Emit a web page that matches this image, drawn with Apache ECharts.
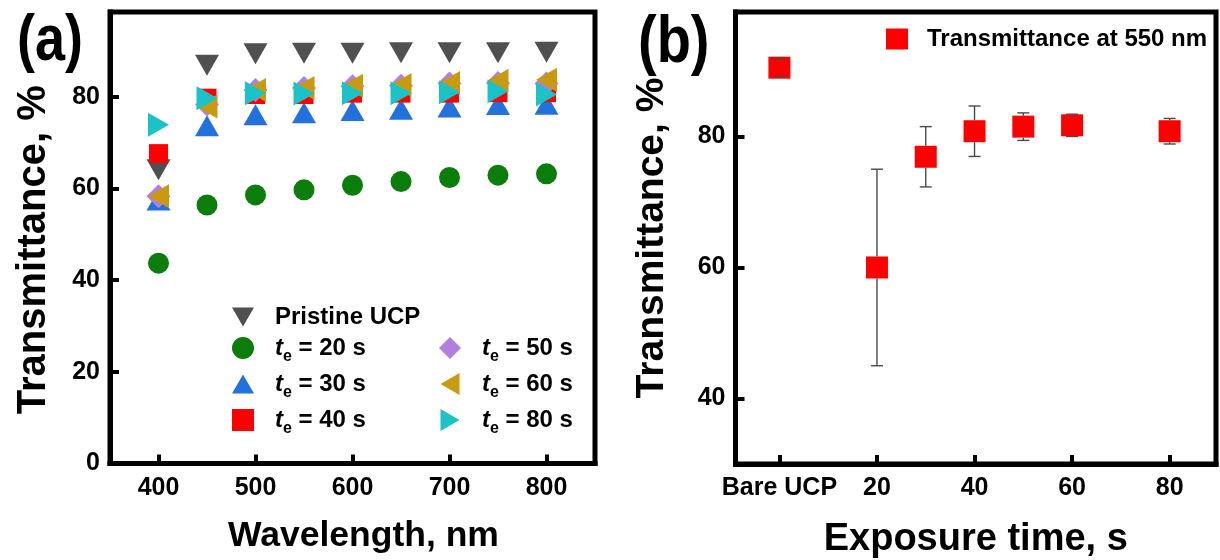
<!DOCTYPE html>
<html>
<head>
<meta charset="utf-8">
<script src="https://cdn.jsdelivr.net/npm/echarts@6/dist/echarts.min.js"></script>
<style>
  html, body { margin: 0; padding: 0; background: #ffffff; }
  #chart { width: 1220px; height: 560px; }
</style>
</head>
<body>
<div id="chart"></div>
<script>
// ---- (a) transmittance spectra ----
const wavelengths = [400, 450, 500, 550, 600, 650, 700, 750, 800];
const pristineUCP = [64.1, 86.9, 89.4, 89.5, 89.5, 89.6, 89.6, 89.6, 89.7];
const te20 = [43.7, 56.4, 58.6, 59.7, 60.7, 61.5, 62.4, 62.9, 63.2];
const te30 = [57.5, 73.7, 76.1, 76.5, 77.0, 77.3, 77.8, 78.3, 78.4];
const te40 = [67.6, 79.7, 80.5, 80.5, 80.8, 80.8, 80.8, 80.9, 80.9];
const te50 = [58.3, 78.3, 81.5, 81.9, 82.3, 82.4, 82.9, 83.0, 82.9];
const te60 = [58.3, 77.9, 81.5, 81.9, 82.4, 82.6, 83.0, 83.5, 83.7];
const te80 = [73.9, 79.7, 80.8, 80.7, 80.8, 80.8, 81.0, 81.2, 80.5];
const wlTicks = [400, 500, 600, 700, 800];
const leftYTicks = [0, 20, 40, 60, 80];

// ---- (b) transmittance at 550 nm vs exposure time ----
const exposureTimes = [0, 20, 30, 40, 50, 60, 80];
const trans550 = [90.5, 60.0, 76.9, 80.8, 81.5, 81.7, 80.8];
const err550 = [1.3, 15.0, 4.6, 3.85, 2.1, 1.7, 1.95];
const timeTicks = [0, 20, 40, 60, 80];
const timeTickLabels = ['Bare UCP', '20', '40', '60', '80'];
const rightYTicks = [40, 60, 80];

const FONT = '"Liberation Sans", Arial, Helvetica, sans-serif';
const SQ = 22; // square marker size in (b)

const DOWN_TRI = 'path://M0,0 L20,0 L10,17.3 Z';
const UP_TRI = 'path://M10,0 L20,17.3 L0,17.3 Z';
const LEFT_TRI = 'path://M0,10 L17.3,0 L17.3,20 Z';
const RIGHT_TRI = 'path://M0,0 L17.3,10 L0,20 Z';

const spectra = [
  { name: 'Pristine UCP', data: pristineUCP, symbol: DOWN_TRI, size: [24, 21], color: '#505050' },
  { name: '20 s', data: te20, symbol: 'circle', size: 21, color: '#0b7d0b' },
  { name: '30 s', data: te30, symbol: UP_TRI, size: [24, 21], color: '#2271dc' },
  { name: '40 s', data: te40, symbol: 'rect', size: 19, color: '#ff0000' },
  { name: '50 s', data: te50, symbol: 'diamond', size: 24, color: '#b07fe0' },
  { name: '60 s', data: te60, symbol: LEFT_TRI, size: [21, 24], color: '#c99a10' },
  { name: '80 s', data: te80, symbol: RIGHT_TRI, size: [21, 24], color: '#1cc3c6' }
];

function pairs(ys) { return wavelengths.map((w, i) => [w, ys[i]]); }

const tickLabelStyle = { fontFamily: FONT, fontWeight: 'bold', fontSize: 25, color: '#000' };
const axisNameStyle = { fontFamily: FONT, fontWeight: 'bold', fontSize: 36, color: '#000' };
const frameLine = { show: true, onZero: false, lineStyle: { color: '#000', width: 5, cap: 'square' } };
const tickStyle = { show: true, inside: true, length: 9, lineStyle: { color: '#000', width: 4 } };

// italic t with a lowered, smaller subscript e
const legendRich = {
  it: { fontFamily: FONT, fontWeight: 'bold', fontStyle: 'italic', fontSize: 24, lineHeight: 28, verticalAlign: 'middle', color: '#000' },
  sub: { fontFamily: FONT, fontWeight: 'bold', fontSize: 16, lineHeight: 10, padding: [18, 0, 0, 0], verticalAlign: 'middle', color: '#000' },
  n: { fontFamily: FONT, fontWeight: 'bold', fontSize: 24, lineHeight: 28, verticalAlign: 'middle', color: '#000' }
};
function legendLabel(name) {
  if (name === 'Pristine UCP') return '{n|Pristine UCP}';
  return '{it|t}{sub|e}{n| = ' + name + '}';
}

function renderErrorBar(params, api) {
  const x = api.value(0), y = api.value(1), e = api.value(2);
  const c = api.coord([x, y]);
  const t = api.coord([x, y + e]);
  const b = api.coord([x, y - e]);
  const half = SQ / 2, cap = 6;
  const st = { stroke: '#4a4a4a', lineWidth: 1.4 };
  const kids = [
    { type: 'line', shape: { x1: c[0] - cap, y1: t[1], x2: c[0] + cap, y2: t[1] }, style: st },
    { type: 'line', shape: { x1: c[0] - cap, y1: b[1], x2: c[0] + cap, y2: b[1] }, style: st }
  ];
  if (t[1] < c[1] - half) kids.push({ type: 'line', shape: { x1: c[0], y1: t[1], x2: c[0], y2: c[1] - half }, style: st });
  if (b[1] > c[1] + half) kids.push({ type: 'line', shape: { x1: c[0], y1: c[1] + half, x2: c[0], y2: b[1] }, style: st });
  return { type: 'group', children: kids };
}

const chart = echarts.init(document.getElementById('chart'), null, { renderer: 'canvas' });

const series = spectra.map(s => ({
  name: s.name,
  type: 'scatter',
  xAxisIndex: 0, yAxisIndex: 0,
  data: pairs(s.data),
  symbol: s.symbol,
  symbolSize: s.size,
  itemStyle: { color: s.color, opacity: 1 },
  emphasis: { disabled: true }
}));

series.push({
  name: 'Transmittance at 550 nm',
  type: 'scatter',
  xAxisIndex: 1, yAxisIndex: 1,
  data: exposureTimes.map((x, i) => [x, trans550[i]]),
  symbol: 'rect',
  symbolSize: SQ,
  itemStyle: { color: '#ff0000', opacity: 1 },
  emphasis: { disabled: true },
  z: 2
});
series.push({
  name: 'err550',
  type: 'custom',
  xAxisIndex: 1, yAxisIndex: 1,
  data: exposureTimes.map((x, i) => [x, trans550[i], err550[i]]),
  encode: { x: 0, y: 1 },
  renderItem: renderErrorBar,
  z: 3,
  silent: true
});

const option = {
  backgroundColor: '#ffffff',
  animation: false,
  grid: [
    { left: 110, top: 12, width: 485, height: 451.5, outerBoundsMode: 'none', show: true, borderColor: '#000', borderWidth: 5, backgroundColor: 'transparent' },
    { left: 735.5, top: 12, width: 480.5, height: 452, outerBoundsMode: 'none', show: true, borderColor: '#000', borderWidth: 5, backgroundColor: 'transparent' }
  ],
  xAxis: [
    {
      type: 'value', gridIndex: 0, min: 350, max: 850,
      name: 'Wavelength, nm', nameLocation: 'middle', nameGap: 55,
      nameTextStyle: Object.assign({}, axisNameStyle, { fontSize: 35.5, padding: [0, 0, 0, 22] }),
      axisLine: frameLine, splitLine: { show: false },
      axisTick: Object.assign({ customValues: wlTicks }, tickStyle),
      axisLabel: Object.assign({ customValues: wlTicks, margin: 12 }, tickLabelStyle)
    },
    {
      type: 'value', gridIndex: 1, min: -9, max: 89.5,
      name: 'Exposure time, s', nameLocation: 'middle', nameGap: 57,
      nameTextStyle: Object.assign({}, axisNameStyle, { fontSize: 38 }),
      axisLine: frameLine, splitLine: { show: false },
      axisTick: Object.assign({ customValues: timeTicks }, tickStyle),
      axisLabel: Object.assign({
        customValues: timeTicks, margin: 12,
        formatter: v => timeTickLabels[timeTicks.indexOf(v)]
      }, tickLabelStyle)
    }
  ],
  yAxis: [
    {
      type: 'value', gridIndex: 0, min: 0, max: 98.5,
      name: 'Transmittance, %', nameLocation: 'middle', nameGap: 56,
      nameTextStyle: Object.assign({}, axisNameStyle, { fontSize: 40, padding: [0, 24, 0, 0] }),
      axisLine: frameLine, splitLine: { show: false },
      axisTick: Object.assign({ customValues: leftYTicks }, tickStyle),
      axisLabel: Object.assign({ customValues: leftYTicks, margin: 10 }, tickLabelStyle)
    },
    {
      type: 'value', gridIndex: 1, min: 30, max: 99,
      name: 'Transmittance, %', nameLocation: 'middle', nameGap: 64,
      nameTextStyle: Object.assign({}, axisNameStyle, { fontSize: 39 }),
      axisLine: frameLine, splitLine: { show: false },
      axisTick: Object.assign({ customValues: rightYTicks }, tickStyle),
      axisLabel: Object.assign({ customValues: rightYTicks, margin: 10 }, tickLabelStyle)
    }
  ],
  legend: [
    {
      data: ['Pristine UCP', '20 s', '30 s', '40 s'],
      orient: 'vertical', left: 232, top: 305, padding: 0,
      itemWidth: 22, itemHeight: 22, itemGap: 2,
      selectedMode: false,
      formatter: legendLabel,
      textStyle: { height: 28, padding: [0, 0, 0, 16], rich: legendRich }
    },
    {
      data: ['50 s', '60 s', '80 s'],
      orient: 'vertical', left: 439, top: 331, padding: 0,
      itemWidth: 22, itemHeight: 22, itemGap: 2,
      selectedMode: false,
      formatter: legendLabel,
      textStyle: { height: 28, padding: [0, 0, 0, 16], rich: legendRich }
    },
    {
      data: ['Transmittance at 550 nm'],
      left: 886, top: 27, padding: 0,
      icon: 'rect', itemWidth: 22, itemHeight: 21,
      selectedMode: false,
      textStyle: { fontFamily: FONT, fontWeight: 'bold', fontSize: 24, color: '#000', padding: [0, 0, 0, 14] }
    }
  ],
  graphic: [
    { type: 'text', left: 17, top: 10, scaleY: 1.2, style: { text: '(a)', fontFamily: FONT, fontWeight: 'bold', fontSize: 54, fill: '#000' } },
    { type: 'text', left: 638, top: 10, scaleY: 1.2, style: { text: '(b)', fontFamily: FONT, fontWeight: 'bold', fontSize: 56, fill: '#000' } }
  ],
  series: series
};

chart.setOption(option);
</script>
</body>
</html>
